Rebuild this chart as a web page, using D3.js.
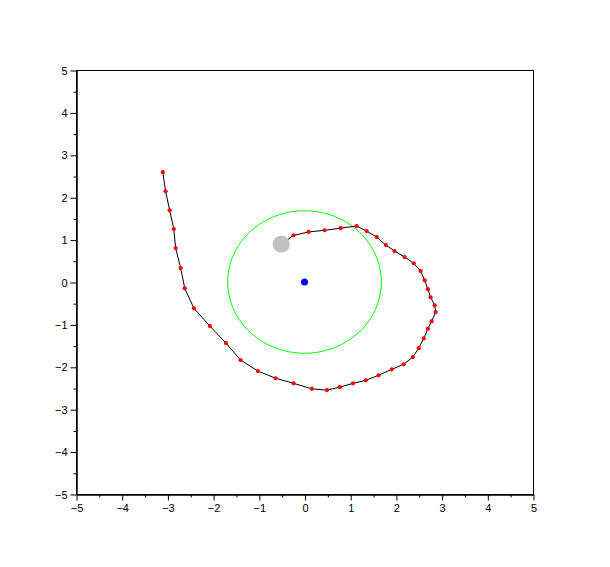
<!DOCTYPE html>
<html>
<head>
<meta charset="utf-8">
<script src="https://cdn.jsdelivr.net/npm/d3@7"></script>
<style>
  body { margin: 0; background: #fff; }
  svg { display: block; }
  .axis text { font-family: "Liberation Sans", Arial, sans-serif; font-size: 11px; fill: #000; }
  .axis path, .axis line { stroke: #000; }
</style>
</head>
<body>
<svg id="chart"></svg>
<script>
// trajectory (first point is the start marker, no red dot)
const pathX = [-0.51, -0.24, 0.09, 0.44, 0.79, 1.14, 1.36, 1.58, 1.78, 1.97, 2.19, 2.39, 2.54, 2.63, 2.70, 2.76, 2.85, 2.87,
  2.78, 2.70, 2.61, 2.50, 2.37, 2.17, 1.91, 1.62, 1.34, 1.06, 0.77, 0.49, 0.16, -0.24, -0.63, -1.02, -1.40, -1.72,
  -2.07, -2.42, -2.62, -2.71, -2.82, -2.86, -2.95, -3.04, -3.10];
const pathY = [0.89, 1.10, 1.18, 1.22, 1.27, 1.32, 1.20, 1.06, 0.87, 0.73, 0.59, 0.44, 0.26, 0.04, -0.17, -0.36, -0.55, -0.71,
  -0.93, -1.10, -1.33, -1.56, -1.77, -1.94, -2.06, -2.20, -2.32, -2.39, -2.48, -2.55, -2.52, -2.39, -2.27, -2.10, -1.84, -1.44,
  -1.04, -0.62, -0.15, 0.33, 0.80, 1.25, 1.69, 2.14, 2.59];
const startPoint = [-0.51, 0.89];
const target = [0, 0];
const ringRadius = 1.68;
const ticks = [-5, -4, -3, -2, -1, 0, 1, 2, 3, 4, 5];
const minorTicks = [-4.5, -3.5, -2.5, -1.5, -0.5, 0.5, 1.5, 2.5, 3.5, 4.5];

const width = 610, height = 567;
const margin = {top: 70, right: 77, bottom: 73, left: 76};

const svg = d3.select('#chart')
  .attr('width', width)
  .attr('height', height);

const x = d3.scaleLinear()
  .domain([-5, 5])
  .range([margin.left, width - margin.right]);

const y = d3.scaleLinear()
  .domain([-5, 5])
  .range([height - margin.bottom, margin.top]);

// box
svg.append('rect')
  .attr('x', x(-5) + 0.5)
  .attr('y', y(5) + 0.5)
  .attr('width', x(5) - x(-5))
  .attr('height', y(-5) - y(5))
  .attr('fill', 'none')
  .attr('stroke', '#000');

// axes
svg.append('g')
  .attr('class', 'axis')
  .attr('transform', `translate(0.5,${y(-5) + 0.5})`)
  .call(d3.axisBottom(x).tickValues(ticks).tickSize(6).tickPadding(4).tickSizeOuter(0));

svg.append('g')
  .attr('class', 'axis')
  .attr('transform', `translate(0.5,${y(-5) + 0.5})`)
  .call(d3.axisBottom(x).tickValues(minorTicks).tickSize(3).tickFormat('').tickSizeOuter(0));

svg.append('g')
  .attr('class', 'axis')
  .attr('transform', `translate(${x(-5) + 0.5},0.5)`)
  .call(d3.axisLeft(y).tickValues(ticks).tickSize(6).tickPadding(3).tickSizeOuter(0));

svg.append('g')
  .attr('class', 'axis')
  .attr('transform', `translate(${x(-5) + 0.5},0.5)`)
  .call(d3.axisLeft(y).tickValues(minorTicks).tickSize(3).tickFormat('').tickSizeOuter(0));

// target ring
const ring = d3.range(0, 361, 2).map(a => [
  target[0] + ringRadius * Math.cos(a * Math.PI / 180),
  target[1] + ringRadius * Math.sin(a * Math.PI / 180)
]);
svg.append('path')
  .datum(ring)
  .attr('fill', 'none')
  .attr('stroke', '#00ff00')
  .attr('stroke-width', 1)
  .attr('d', d3.line().x(d => x(d[0])).y(d => y(d[1])));

// trajectory
const pts = pathX.map((v, i) => [v, pathY[i]]);
svg.append('path')
  .datum(pts)
  .attr('fill', 'none')
  .attr('stroke', '#000')
  .attr('stroke-width', 1)
  .attr('d', d3.line().x(d => x(d[0])).y(d => y(d[1])));

svg.append('g')
  .selectAll('circle')
  .data(pts.slice(1))
  .enter()
  .append('circle')
    .attr('cx', d => x(d[0]))
    .attr('cy', d => y(d[1]))
    .attr('r', 2.1)
    .attr('fill', '#ff0000');

// start marker
svg.append('circle')
  .attr('cx', x(startPoint[0]))
  .attr('cy', y(startPoint[1]))
  .attr('r', 8.5)
  .attr('fill', '#c0c0c0');

// target
svg.append('circle')
  .attr('cx', x(target[0]))
  .attr('cy', y(target[1]))
  .attr('r', 3.5)
  .attr('fill', '#0000ff');
</script>
</body>
</html>
